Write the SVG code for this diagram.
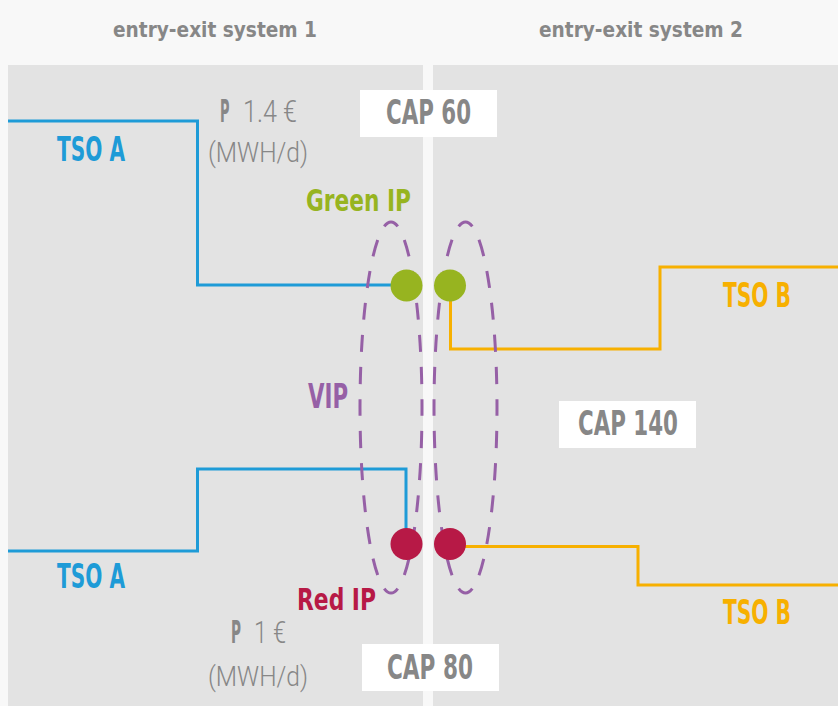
<svg xmlns="http://www.w3.org/2000/svg" width="838" height="706" viewBox="0 0 838 706">
<style>
.bg{fill:#f8f8f8}
.panel{fill:#e3e3e3}
.box{fill:#ffffff}
.t{font-family:"Liberation Sans Narrow","DejaVu Sans Condensed","Liberation Sans",sans-serif;font-weight:bold;font-stretch:condensed}
.lt{font-family:Roboto,"Liberation Sans",sans-serif;font-weight:300}
.gray{fill:#878787}
.blue{fill:#1e9bd7}
.orange{fill:#f7b000}
.green{fill:#97b420}
.red{fill:#b71946}
.purple{fill:#9660a6}
.lb{fill:none;stroke:#1e9bd7;stroke-width:3}
.lo{fill:none;stroke:#f7b000;stroke-width:3}
.vip{fill:none;stroke:#9660a6;stroke-width:3;stroke-dasharray:17 15;stroke-dashoffset:8.5}
</style>
<rect class="bg" x="0" y="0" width="838" height="706"/>
<rect class="panel" x="8" y="65" width="415" height="641"/>
<rect class="panel" x="433" y="65" width="405" height="641"/>
<g id="header1"><text class="t gray" x="113" y="37" font-size="21" textLength="204" lengthAdjust="spacingAndGlyphs">entry-exit system 1</text></g>
<g id="header2"><text class="t gray" x="539" y="37" font-size="21" textLength="204" lengthAdjust="spacingAndGlyphs">entry-exit system 2</text></g>
<g id="connectors">
<polyline class="lb" points="8,121 197.5,121 197.5,285 406,285"/>
<polyline class="lb" points="8,551 197.5,551 197.5,469 406,469 406,544"/>
<polyline class="lo" points="450.5,286 450.5,349 660,349 660,267 838,267"/>
<polyline class="lo" points="450,546.5 638,546.5 638,585 838,585"/>
<path class="vip" pathLength="768" d="M391,222 A31,185.5 0 0 1 391,593 A31,185.5 0 0 1 391,222"/>
<path class="vip" pathLength="768" d="M465.5,222 A31.5,185.5 0 0 1 465.5,593 A31.5,185.5 0 0 1 465.5,222"/>
</g>
<g id="cap60"><rect class="box" x="360" y="90" width="137" height="47"/><text class="t gray" x="386" y="124" font-size="33" textLength="85" lengthAdjust="spacingAndGlyphs">CAP 60</text></g>
<g id="cap140"><rect class="box" x="559" y="401" width="137" height="47"/><text class="t gray" x="578" y="435" font-size="33" textLength="100" lengthAdjust="spacingAndGlyphs">CAP 140</text></g>
<g id="cap80"><rect class="box" x="362" y="644" width="137" height="47"/><text class="t gray" x="387" y="679" font-size="33" textLength="86" lengthAdjust="spacingAndGlyphs">CAP 80</text></g>
<g id="price1">
<text class="t gray" x="220" y="122" font-size="32" textLength="9.5" lengthAdjust="spacingAndGlyphs">P</text>
<text class="lt gray" x="243" y="122" font-size="32" textLength="54" lengthAdjust="spacingAndGlyphs">1.4 €</text>
<text class="lt gray" x="208" y="162" font-size="28" textLength="100" lengthAdjust="spacingAndGlyphs">(MWH/d)</text>
</g>
<g id="price2">
<text class="t gray" x="231" y="643" font-size="32" textLength="10" lengthAdjust="spacingAndGlyphs">P</text>
<text class="lt gray" x="254" y="643" font-size="32" textLength="32" lengthAdjust="spacingAndGlyphs">1 €</text>
<text class="lt gray" x="208" y="686" font-size="28" textLength="100" lengthAdjust="spacingAndGlyphs">(MWH/d)</text>
</g>
<g id="tsoA1"><text class="t blue" x="57" y="161" font-size="33" textLength="68" lengthAdjust="spacingAndGlyphs">TSO A</text></g>
<g id="tsoA2"><text class="t blue" x="57" y="588" font-size="33" textLength="68" lengthAdjust="spacingAndGlyphs">TSO A</text></g>
<g id="tsoB1"><text class="t orange" x="723" y="307" font-size="33" textLength="68" lengthAdjust="spacingAndGlyphs">TSO B</text></g>
<g id="tsoB2"><text class="t orange" x="723" y="624" font-size="33" textLength="68" lengthAdjust="spacingAndGlyphs">TSO B</text></g>
<g id="greenIP">
<text class="t green" x="306" y="211" font-size="31" textLength="105" lengthAdjust="spacingAndGlyphs">Green IP</text>
<circle class="green" cx="406.5" cy="285.5" r="16"/>
<circle class="green" cx="450" cy="285.5" r="16"/>
</g>
<g id="redIP">
<text class="t red" x="297" y="610" font-size="31" textLength="79" lengthAdjust="spacingAndGlyphs">Red IP</text>
<circle class="red" cx="406.5" cy="544" r="16"/>
<circle class="red" cx="450" cy="544" r="16"/>
</g>
<g id="vip"><text class="t purple" x="308" y="408" font-size="34" textLength="40" lengthAdjust="spacingAndGlyphs">VIP</text></g>
</svg>
